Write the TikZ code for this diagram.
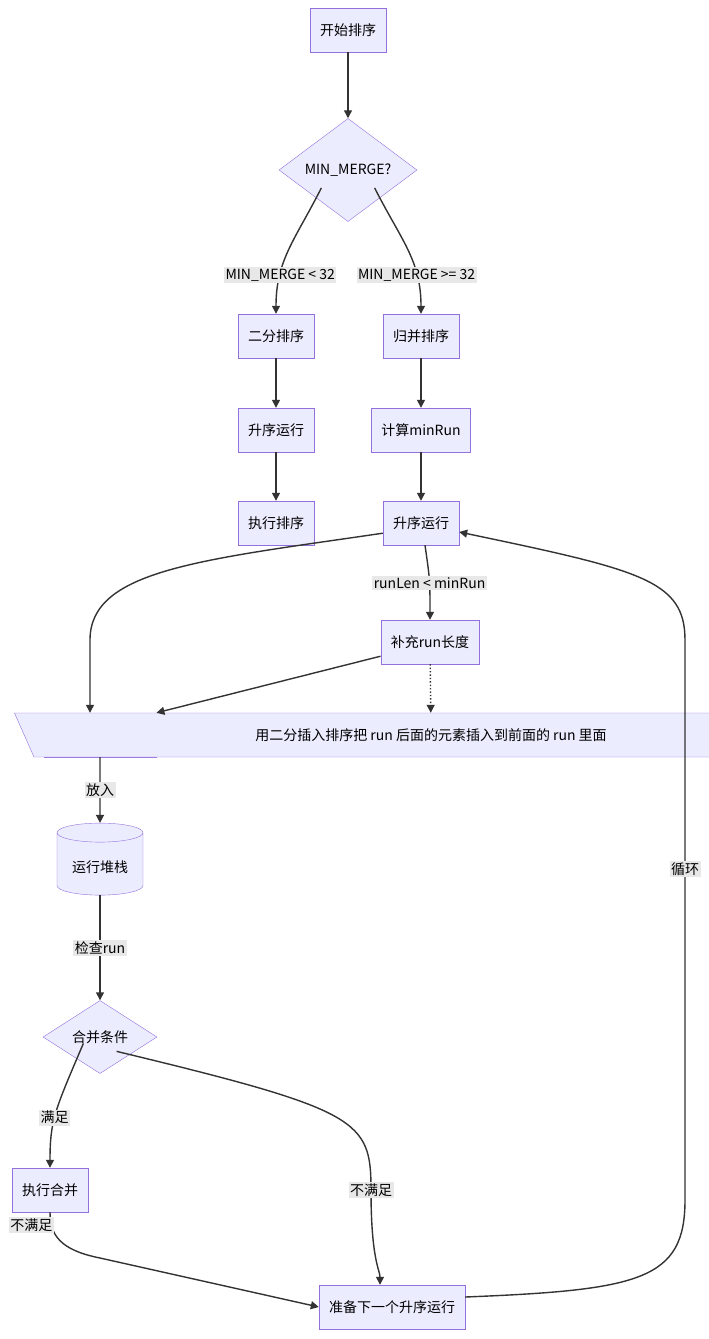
\documentclass[tikz,border=0pt]{standalone}
\usepackage{fontspec}
\setmainfont{Noto Sans CJK SC}
\usetikzlibrary{shapes.geometric,arrows.meta}
\definecolor{boxfill}{HTML}{ECECFF}
\definecolor{boxline}{HTML}{9370DB}
\definecolor{edgecol}{HTML}{333333}
\definecolor{lblfill}{HTML}{E8E8E8}
\tikzset{
  procbox/.style={draw=boxline,fill=boxfill,minimum height=44pt,inner xsep=10pt,font=\fontsize{14}{16}\selectfont},
  choice/.style={draw=boxline,fill=boxfill,diamond,aspect=1,inner sep=1pt,font=\fontsize{14}{16}\selectfont},
  edgelbl/.style={fill=lblfill,inner sep=1.5pt,font=\fontsize{14}{16}\selectfont},
  flow/.style={draw=edgecol,line width=1.4pt,-{Triangle[length=8pt,width=8pt]}},
}
\begin{document}
\begin{tikzpicture}[x=1pt,y=-1pt]
  \useasboundingbox (0,0) rectangle (709,1339);
  % nodes
  \node[procbox] (start) at (348,30) {开始排序};
  \node[choice,minimum width=138pt] (minq) at (348,170) {MIN\_MERGE?};
  \node[procbox] (binsort) at (276,336) {二分排序};
  \node[procbox] (mrgsort) at (421,336) {归并排序};
  \node[procbox] (runL) at (276,430) {升序运行};
  \node[procbox] (calc) at (421,430) {计算minRun};
  \node[procbox] (dosort) at (276,523) {执行排序};
  \node[procbox] (runR) at (421,523) {升序运行};
  \node[procbox] (fill) at (430,642) {补充run长度};
  \node[procbox] (subrun) at (100,735) {得到子序列run};
  \node[procbox,trapezium,trapezium left angle=114,trapezium right angle=66,inner xsep=2pt,minimum height=44pt] (note) at (431,735) {用二分插入排序把 run 后面的元素插入到前面的 run 里面};
  \node[procbox,cylinder,shape border rotate=90,aspect=0.25,minimum width=86pt,minimum height=72pt] (stack) at (100,867) {运行堆栈};
  \node[choice,minimum width=114pt] (mergeq) at (100,1037) {合并条件};
  \node[procbox] (domerge) at (50,1190) {执行合并};
  \node[procbox] (next) at (392,1307) {准备下一个升序运行};
  % edges
  \draw[flow] (start) -- (minq);
  \draw[flow] (minq.south west) ++(8,-8) coordinate (mqa) .. controls (295,240) and (276,260) .. node[edgelbl,pos=0.72]{MIN\_MERGE < 32} (binsort.north);
  \draw[flow] (minq.south east) ++(-8,-8) coordinate (mqb) .. controls (401,240) and (421,260) .. node[edgelbl,pos=0.72]{MIN\_MERGE >= 32} (mrgsort.north);
  \draw[flow] (binsort) -- (runL);
  \draw[flow] (runL) -- (dosort);
  \draw[flow] (mrgsort) -- (calc);
  \draw[flow] (calc) -- (runR);
  \draw[flow] (runR.south west) ++(0,-12) .. controls (200,560) and (90,570) .. (90,640) -- (subrun.north -| 90,0);
  \draw[flow] (runR.south) ++(4,0) .. controls (430,580) .. node[edgelbl,pos=0.55]{runLen < minRun} (fill.north);
  \draw[flow] (fill.south west) ++(0,-8) -- (subrun.north east);
  \draw[flow,dotted] (fill) -- (note);
  \draw[flow] (subrun) -- node[edgelbl]{放入} (stack);
  \draw[flow] (stack) -- node[edgelbl]{检查run} (mergeq);
  \draw[flow] (mergeq.south west) ++(12,-12) coordinate (mga) .. controls (55,1110) and (50,1120) .. node[edgelbl,pos=0.55]{满足} (domerge.north);
  \draw[flow] (mergeq.south east) ++(-12,-4) coordinate (mgb) .. controls (360,1110) and (371,1120) .. (371,1190) node[edgelbl]{不满足} .. controls (371,1260) and (380,1270) .. (next.north -| 380,0);
  \draw[flow] (domerge.south) .. controls (50,1235) and (60,1250) .. (100,1258) node[edgelbl,pos=0.2,xshift=-20pt]{不满足} -- (next.west);
  \draw[flow] (next.east) ++(0,-10) .. controls (640,1290) and (685,1280) .. (685,1200) -- (685,869) node[edgelbl]{循环} -- (685,640) .. controls (685,580) and (640,570) .. (runR.east |- 0,532);
\end{tikzpicture}
\end{document}
